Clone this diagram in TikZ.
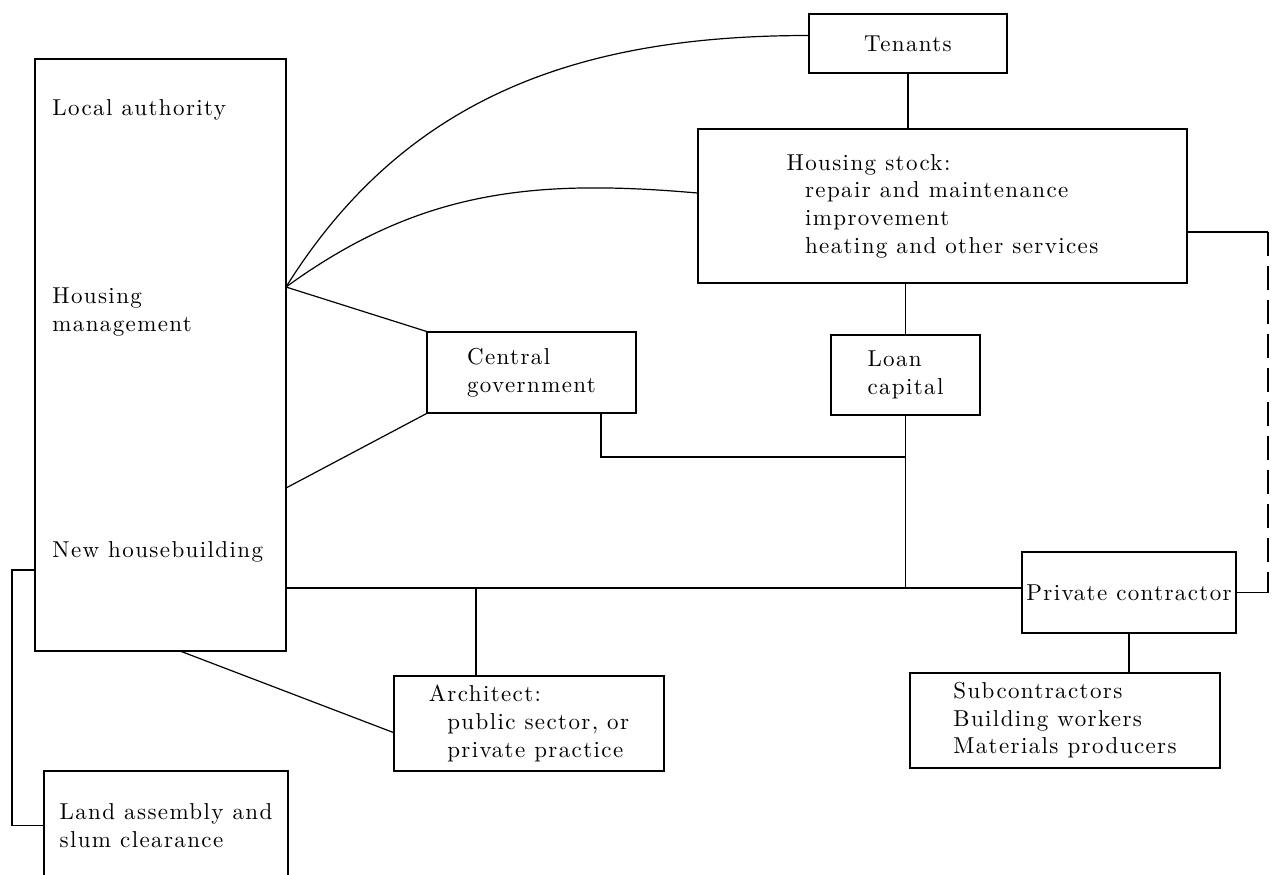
\documentclass[tikz,border=0pt]{standalone}
\usepackage{fontspec}
\setmainfont{lmroman10-regular}[Extension=.otf, LetterSpace=6]
\usepackage{tikz}
\usetikzlibrary{calc}

\begin{document}
\begin{tikzpicture}[
  x=0.5pt, y=-0.5pt,
  box/.style  = {draw, line width=0.6pt, align=left, inner sep=0pt, font=\fontsize{11.5}{13.8}\selectfont},
  lbl/.style  = {align=left, inner sep=2pt, font=\fontsize{11.5}{13.8}\selectfont},
  link/.style = {line width=0.6pt},
]
\useasboundingbox (0,0) rectangle (1274,874);

% local authority block
\node[box, minimum width=125.5pt, minimum height=296pt] (la) at (160.5,355) {};
\node[lbl, anchor=west] (lalbl) at (48,110) {Local authority};
\node[lbl, anchor=west] (hmlbl) at (48,312) {Housing\\management};
\node[lbl, anchor=west] (nhlbl) at (48,552) {New housebuilding};

\node[box, minimum width=99pt, minimum height=29.5pt] (ten) at (908,43.5) {Tenants};
\node[box, minimum width=244.5pt, minimum height=77pt] (hs) at (942.5,206) {Housing stock:\\\hspace*{0.8em}repair and maintenance\\\hspace*{0.8em}improvement\\\hspace*{0.8em}heating and other services};
\node[box, minimum width=104.5pt, minimum height=40.5pt] (cg) at (531.5,372.5) {Central\\government};
\node[box, minimum width=74.5pt, minimum height=40pt] (loan) at (905.5,375) {Loan\\capital};
\node[box, minimum width=107pt, minimum height=40.5pt] (pc) at (1129,592.5) {Private contractor};
\node[box, minimum width=135pt, minimum height=47.5pt] (arch) at (529,723.5) {Architect:\\\hspace*{0.8em}public sector, or\\\hspace*{0.8em}private practice};
\node[box, minimum width=155pt, minimum height=47.5pt] (sub) at (1065,720.5) {Subcontractors\\Building workers\\Materials producers};
\node[box, minimum width=122pt, minimum height=54.5pt] (land) at (166,825.5) {Land assembly and\\slum clearance};

% points on the local authority box
\coordinate (hm) at (286,287);
\coordinate (nb) at (286,488);
\coordinate (nh) at (286,588);
\coordinate (lab) at (180,651);
\coordinate (lal) at (35,570);
\coordinate (bk) at (12,570);
\coordinate (aj) at (476,588);
\coordinate (gj) at (601,457);
\coordinate (rt) at (1268,232);

\draw[link] (hm) to[out=58, in=180] ([yshift=4pt]ten.west);
\draw[link] (hm) to[out=36, in=175] ([yshift=6.5pt]hs.west);
\draw[link] (hm) -- (cg.north west);
\draw[link] (nb) -- (cg.south west);
\draw[link] (ten.south) -- (ten.south |- hs.north);
\draw[link] (loan.north) -- (loan.north |- hs.south);
\draw[link] (gj |- cg.south) -- (gj) -- (gj -| loan.south);
\draw[link] (loan.south) -- (loan.south |- nh);
\draw[link] (nh) -- (nh -| pc.west);
\draw[link] (aj) -- (aj |- arch.north);
\draw[link] (lab) -- ([yshift=-4.5pt]arch.west);
\draw[link] (lal) -- (bk) |- (land.west);
\draw[link] (pc.south) -- (pc.south |- sub.north);
\draw[link] (rt -| hs.east) -- (rt);
\draw[link, dash pattern=on 12pt off 5pt] (rt) -- (rt |- pc.east);
\draw[link] (pc.east) -- (rt |- pc.east);
\end{tikzpicture}
\end{document}
